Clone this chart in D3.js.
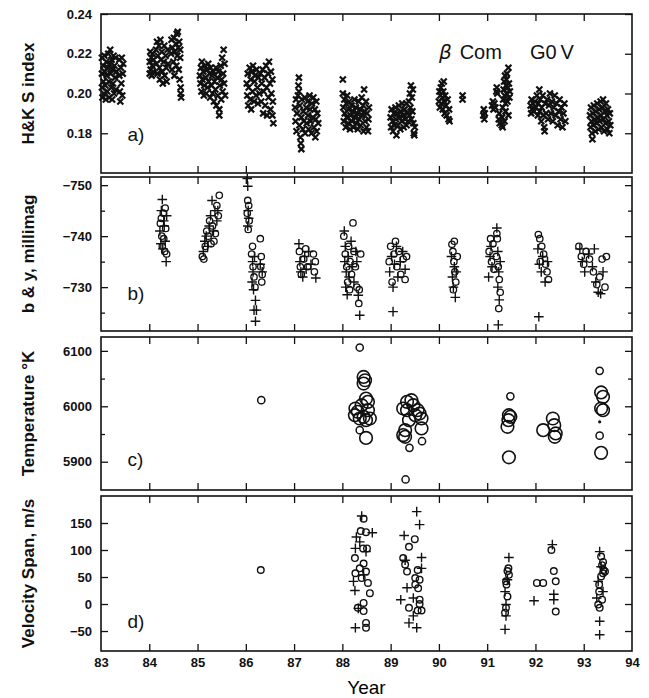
<!DOCTYPE html>
<html>
<head>
<meta charset="utf-8">
<script src="https://cdn.jsdelivr.net/npm/d3@7"></script>
<style>
  body { margin: 0; background: #fff; }
  svg { display: block; }
  .tick text { font-family: "Liberation Sans", Arial, sans-serif; font-weight: bold; font-size: 13px; fill: #111; }
  .tick line { stroke: #111; stroke-width: 1.3; }
  .title { font-family: "Liberation Sans", Arial, sans-serif; font-size: 17px; font-weight: bold; fill: #111; }
  .panelLabel { font-family: "Liberation Sans", Arial, sans-serif; font-size: 19px; fill: #111; }
</style>
</head>
<body>
<svg id="chart"></svg>
<script>

/////////////////////////////////
// DATA
//////////////////////////////////

var years = [83, 84, 85, 86, 87, 88, 89, 90, 91, 92, 93, 94];

// a) H&K S index, one [year, S] per observation
var hkIndex = [
  [83.02,.218],[83.02,.210],[83.02,.203],[83.03,.198],[83.05,.214],[83.05,.206],[83.06,.200],[83.07,.219],[83.08,.211],[83.09,.204],[83.10,.197],[83.11,.216],[83.12,.209],[83.13,.201],[83.14,.213],[83.15,.220],[83.16,.206],[83.17,.198],[83.18,.215],[83.19,.222],[83.20,.210],[83.21,.203],[83.22,.217],[83.23,.197],[83.24,.212],[83.25,.205],[83.26,.219],[83.27,.200],[83.28,.214],[83.29,.208],[83.30,.218],[83.31,.202],[83.32,.211],[83.38,.217],[83.38,.209],[83.39,.201],[83.40,.196],[83.41,.213],[83.42,.205],[83.43,.218],[83.44,.199],[83.45,.210],[83.46,.215],
  [84.01,.210],[84.01,.216],[84.02,.221],[84.03,.212],[84.04,.218],[84.05,.209],[84.06,.214],[84.07,.220],[84.08,.211],[84.09,.217],
  [84.14,.222],[84.15,.215],[84.16,.226],[84.17,.210],[84.18,.219],[84.20,.224],[84.21,.213],[84.22,.207],[84.23,.227],[84.24,.217],[84.26,.221],[84.27,.211],[84.28,.205],[84.30,.216],[84.31,.224],[84.32,.209],[84.34,.219],[84.35,.213],[84.36,.206],[84.38,.222],[84.39,.215],
  [84.45,.220],[84.46,.227],[84.47,.212],[84.48,.223],[84.50,.216],[84.51,.228],[84.52,.209],[84.53,.221],[84.55,.225],[84.56,.214],[84.57,.230],[84.58,.219],[84.59,.231],[84.60,.223],[84.61,.212],[84.62,.226],[84.63,.207],[84.64,.218],[84.65,.203],[84.65,.200],[84.66,.198],[84.64,.222],
  [85.05,.209],[85.06,.205],[85.07,.213],[85.08,.201],[85.09,.216],[85.10,.207],[85.12,.211],[85.13,.199],[85.14,.204],[85.15,.214],[85.17,.208],[85.18,.200],[85.19,.212],[85.21,.203],[85.22,.215],[85.23,.206],[85.25,.210],[85.26,.198],[85.27,.213],[85.29,.204],[85.30,.209],[85.31,.200],[85.33,.211],[85.34,.196],[85.35,.206],[85.37,.202],[85.38,.213],[85.39,.194],[85.41,.208],[85.42,.199],[85.43,.211],[85.45,.192],[85.45,.189],[85.46,.204],[85.48,.214],[85.49,.197],[85.50,.207],[85.51,.218],[85.52,.201],[85.53,.210],[85.54,.222],[85.55,.205],[85.56,.215],[85.57,.199],
  [86.02,.205],[86.03,.199],[86.04,.210],[86.05,.194],[86.06,.203],[86.08,.213],[86.09,.197],[86.10,.207],[86.11,.192],[86.13,.211],[86.14,.201],[86.15,.214],[86.17,.196],[86.18,.206],[86.19,.209],[86.21,.199],[86.22,.212],[86.24,.203],[86.25,.195],[86.26,.208],[86.28,.200],[86.30,.210],[86.32,.196],[86.33,.205],[86.35,.212],[86.36,.190],[86.37,.201],[86.39,.208],[86.40,.194],[86.42,.214],[86.43,.203],[86.44,.189],[86.46,.210],[86.47,.198],[86.48,.216],[86.50,.205],[86.51,.192],[86.52,.211],[86.53,.200],[86.55,.207],[86.55,.189],[86.56,.196],[86.57,.185],
  [87.02,.193],[87.03,.186],[87.04,.197],[87.05,.181],[87.06,.190],[87.08,.199],[87.09,.204],[87.10,.208],[87.10,.201],[87.11,.184],[87.12,.194],[87.13,.178],[87.14,.175],[87.15,.172],[87.15,.188],[87.16,.197],[87.18,.182],[87.19,.191],[87.20,.186],[87.22,.198],[87.23,.180],[87.25,.193],[87.26,.185],[87.28,.196],[87.29,.189],[87.30,.182],[87.32,.199],[87.33,.192],[87.34,.186],[87.36,.180],[87.37,.195],[87.39,.188],[87.40,.198],[87.41,.183],[87.43,.192],[87.44,.178],[87.45,.187],[87.46,.196],[87.47,.181],[87.48,.190],[87.50,.185],
  [88.01,.207],[88.01,.200],[88.02,.193],[88.03,.186],[88.04,.197],[88.05,.190],[88.07,.183],[88.08,.195],[88.09,.188],[88.10,.199],[88.12,.185],[88.13,.192],[88.14,.196],[88.16,.182],[88.17,.189],[88.19,.194],[88.20,.186],[88.22,.191],[88.23,.183],[88.25,.197],[88.26,.188],[88.28,.193],[88.29,.185],[88.31,.190],[88.32,.182],[88.34,.196],[88.35,.187],[88.37,.192],[88.38,.184],[88.40,.198],[88.41,.189],[88.43,.194],[88.44,.181],[88.45,.202],[88.46,.191],[88.47,.186],[88.49,.196],[88.50,.183],[88.51,.190],[88.53,.181],[88.54,.187],[88.55,.193],
  [89.00,.188],[89.01,.183],[89.02,.192],[89.04,.186],[89.05,.181],[89.07,.190],[89.08,.184],[89.10,.193],[89.11,.187],[89.12,.179],[89.14,.190],[89.15,.184],[89.17,.194],[89.18,.188],[89.20,.182],[89.21,.191],[89.23,.186],[89.24,.195],[89.26,.189],[89.27,.183],[89.29,.192],[89.30,.187],[89.32,.195],[89.33,.184],[89.35,.190],[89.36,.186],[89.38,.196],[89.39,.189],[89.40,.200],[89.41,.193],[89.42,.204],[89.43,.187],[89.44,.198],[89.45,.191],[89.46,.202],[89.47,.185],[89.48,.180],[89.49,.179],[89.50,.183],
  [90.00,.196],[90.01,.201],[90.02,.193],[90.03,.199],[90.04,.203],[90.05,.195],[90.06,.205],[90.07,.198],[90.08,.192],[90.09,.201],[90.10,.206],[90.11,.196],[90.12,.190],[90.13,.199],[90.15,.194],[90.16,.189],[90.18,.197],[90.20,.187],[90.21,.192],[90.22,.186],[90.49,.197],[90.49,.199],
  [90.92,.189],[90.93,.192],[90.94,.187],[90.95,.190],[91.10,.194],[91.12,.196],[91.13,.192],[91.15,.195],[91.17,.193],[91.19,.201],[91.20,.203],[91.21,.200],[91.24,.187],[91.25,.190],[91.26,.185],[91.30,.184],[91.31,.188],[91.32,.193],[91.32,.183],[91.33,.197],[91.34,.202],[91.35,.206],[91.36,.199],[91.36,.186],[91.37,.209],[91.38,.195],[91.38,.191],[91.39,.204],[91.40,.207],[91.40,.200],[91.41,.210],[91.42,.196],[91.43,.203],[91.44,.213],[91.44,.189],[91.45,.205],[91.46,.198],[91.47,.201],
  [91.90,.194],[91.91,.190],[91.92,.197],[91.93,.192],[91.95,.195],[91.97,.191],[91.99,.196],[92.01,.193],[92.03,.199],[92.05,.189],[92.06,.195],[92.08,.202],[92.09,.191],[92.10,.197],[92.12,.186],[92.13,.193],[92.15,.199],[92.16,.189],[92.18,.183],[92.19,.181],[92.20,.195],[92.22,.190],[92.24,.197],[92.26,.187],[92.28,.194],[92.30,.200],[92.32,.190],[92.34,.196],[92.36,.186],[92.38,.193],[92.40,.199],[92.42,.189],[92.44,.195],[92.46,.184],[92.48,.191],[92.50,.197],[92.52,.187],[92.54,.193],[92.56,.183],[92.58,.190],[92.60,.195],[92.62,.186],
  [93.13,.189],[93.14,.183],[93.15,.193],[93.16,.186],[93.17,.180],[93.18,.177],[93.19,.190],[93.20,.184],[93.21,.194],[93.23,.187],[93.24,.181],[93.25,.191],[93.27,.185],[93.28,.195],[93.29,.188],[93.31,.182],[93.32,.192],[93.33,.186],[93.35,.196],[93.36,.189],[93.37,.183],[93.39,.193],[93.40,.197],[93.41,.187],[93.42,.181],[93.44,.191],[93.45,.185],[93.46,.195],[93.48,.189],[93.49,.182],[93.50,.192],[93.52,.186],[93.53,.180],[93.54,.190],[93.55,.184]
];

// b) Stromgren b (circles) and y (plus), millimag
var bMag = [
  [84.23,-742.5],[84.26,-740],[84.29,-744.5],[84.32,-737],[84.34,-741.5],[84.27,-738],[84.36,-736.5],[84.30,-739.5],[84.25,-743.5],[84.33,-745.5],
  [85.10,-736],[85.13,-735.5],[85.16,-738],[85.19,-741],[85.22,-740],[85.25,-743],[85.28,-738.5],[85.31,-742],[85.34,-739],[85.37,-740.5],[85.40,-746],[85.43,-744],[85.45,-748],
  [86.04,-747],[86.06,-746],[86.03,-744.5],[86.05,-741.3],[86.07,-743],[86.12,-736.5],[86.14,-738],[86.15,-734],[86.17,-732],[86.19,-730],[86.30,-739.5],[86.32,-736],[86.34,-732.5],[86.33,-731],[86.31,-734],
  [87.11,-737],[87.13,-734],[87.15,-732.5],[87.20,-735.5],[87.24,-737.5],[87.28,-734],[87.40,-736.5],[87.44,-735],[87.42,-733],
  [88.03,-740],[88.06,-736.5],[88.09,-734],[88.11,-731],[88.13,-738],[88.16,-735],[88.19,-732.5],[88.22,-742.6],[88.24,-737],[88.27,-734],[88.30,-730],[88.34,-726.8],[88.38,-736.5],[88.35,-729.5],[88.15,-729.5],
  [88.97,-735],[89.00,-738],[89.03,-731],[89.07,-736.5],[89.10,-739],[89.13,-734],[89.17,-737],[89.21,-732.5],[89.26,-735.5],[89.30,-731.5],[89.33,-736],
  [90.27,-738.4],[90.29,-737],[90.31,-735],[90.33,-733],[90.35,-731],[90.30,-729.5],[90.38,-736],[90.32,-739],
  [91.04,-737],[91.07,-739.5],[91.09,-735],[91.12,-738.5],[91.14,-733.5],[91.19,-736],[91.21,-739.5],[91.23,-734],[91.25,-731.5],[91.27,-729],[91.24,-725.8],[91.20,-740.5],
  [92.06,-740.3],[92.09,-739.5],[92.13,-738],[92.17,-736.5],[92.21,-734.5],[92.24,-733],[92.27,-731.5],[92.10,-735],
  [92.90,-738],[92.95,-736],[93.00,-734.5],[93.05,-737],[93.12,-735.5],[93.20,-733],[93.27,-730.5],[93.33,-732],[93.38,-735.5],[93.44,-730],[93.47,-736]
];
var yMag = [
  [84.25,-745],[84.27,-747.2],[84.30,-743],[84.22,-741],[84.33,-739],[84.28,-737.5],[84.35,-735],[84.31,-742],[84.24,-738.5],[84.36,-744],
  [85.12,-737],[85.15,-739],[85.18,-740],[85.21,-738],[85.24,-742],[85.27,-744],[85.30,-747],[85.33,-741],[85.36,-745],[85.40,-743],[85.42,-745],
  [86.03,-751.3],[86.04,-749.8],[86.05,-745],[86.06,-743.5],[86.04,-742],[86.14,-735],[86.15,-733],[86.13,-731],[86.18,-736],[86.16,-729.5],[86.20,-727.4],[86.17,-725.5],[86.22,-725.5],[86.20,-723.3],[86.30,-734.5],[86.34,-733],
  [87.10,-738.5],[87.12,-735],[87.14,-733],[87.18,-732],[87.22,-736],[87.30,-737],[87.35,-734.5],[87.45,-731.8],[87.25,-733.5],
  [88.04,-741],[88.06,-738],[88.05,-735],[88.08,-733],[88.07,-730],[88.10,-728.5],[88.12,-736],[88.14,-732],[88.18,-739],[88.20,-734],[88.24,-731],[88.30,-735],[88.33,-728.4],[88.36,-724.5],[88.28,-737],
  [88.98,-733],[89.02,-736],[89.05,-730],[89.08,-734.5],[89.12,-738],[89.05,-725.2],[89.15,-732],[89.20,-735],[89.25,-737],[89.30,-733.5],
  [90.26,-736],[90.28,-732],[90.30,-730],[90.32,-734],[90.34,-728],[90.36,-733],
  [91.03,-732],[91.06,-736],[91.08,-738],[91.10,-734],[91.20,-741.6],[91.22,-737],[91.24,-733],[91.22,-730],[91.25,-727.5],[91.23,-722.6],[91.27,-735],
  [92.05,-737.5],[92.08,-734.5],[92.12,-733],[92.07,-724.2],[92.15,-736],[92.20,-731],[92.25,-735],
  [92.92,-737.5],[92.97,-735],[93.02,-733],[93.10,-736.5],[93.18,-734],[93.25,-731],[93.30,-729],[93.35,-728.7],[93.22,-737.5],[93.40,-733]
];

// c) Temperature, K : large and small circles
var tempLarge = [
  [88.44,6053],[88.47,6047],[88.44,6041],[88.49,6014],[88.53,6008],[88.40,6002],[88.27,5996],[88.53,5993],[88.32,5990],[88.26,5984],[88.44,5981],[88.36,5978],[88.57,5978],[88.49,5975],[88.49,5943],
  [89.26,5996],[89.34,6008],[89.43,6011],[89.47,6002],[89.56,5993],[89.60,5987],[89.64,5978],[89.51,5984],[89.38,5975],[89.30,5957],[89.26,5948],[89.30,5945],[89.64,5960],[89.34,5993],
  [91.45,5984],[91.44,5975],[91.42,5963],[91.48,5981],[91.45,5908],
  [92.16,5957],[92.36,5978],[92.39,5966],[92.42,5951],[92.40,5945],
  [93.36,6025],[93.40,6017],[93.36,5996],[93.40,5993],[93.36,5916]
];
var tempSmall = [
  [86.32,6011],[88.36,6106],[88.36,5957],[89.39,5925],[89.65,5937],[89.31,5868],[91.48,6018],[93.33,6064],[93.33,5947]
];
var tempDot = [[93.33,5972]];

// d) Velocity span, m/s : plus and circles
var spanPlus = [
  [88.40,163],[88.29,124],[88.62,132],[88.27,103],[88.23,42],[88.26,25],[88.44,54],[88.27,-44],[88.33,-8],[88.49,97],[88.36,115],
  [89.54,171],[89.60,147],[89.28,127],[89.64,86],[89.64,66],[89.34,30],[89.21,8],[89.47,11],[89.47,-22],[89.38,-35],[89.54,-44],[89.30,81],
  [91.45,86],[91.37,23],[91.39,-1],[91.39,-22],[91.37,-47],[91.42,45],
  [92.35,110],[92.38,18],[91.97,6],[92.38,8],
  [93.33,97],[93.30,42],[93.27,11],[93.33,-32],[93.33,-57],[93.36,69],[93.40,23]
];
var spanCircle = [
  [86.31,63],
  [88.44,158],[88.38,135],[88.49,133],[88.43,103],[88.51,103],[88.26,85],[88.44,75],[88.27,57],[88.53,39],[88.57,20],[88.44,2],[88.44,-13],[88.49,-35],[88.49,-44],[88.32,-7],[88.36,66],[88.40,48],[88.49,60],
  [89.50,120],[89.38,106],[89.26,85],[89.30,73],[89.34,60],[89.51,48],[89.60,45],[89.57,29],[89.60,8],[89.38,-7],[89.56,-12],[89.60,0],[89.64,-12],[89.51,36],[89.56,63],
  [91.42,61],[91.45,54],[91.39,42],[91.42,14],[91.39,-7],[91.37,-16],[91.44,66],[91.40,36],
  [92.33,100],[92.03,39],[92.38,61],[92.42,42],[92.42,-14],[92.16,39],
  [93.36,88],[93.38,72],[93.41,63],[93.40,57],[93.36,51],[93.32,23],[93.30,-1],[93.33,-7],[93.40,78],[93.44,60],[93.32,36],[93.38,8]
];

/////////////////////////////////
// SETUP
//////////////////////////////////

var width = 649;
var height = 698;
var left = 101, right = 632;

var svg = d3.select("#chart")
  .attr("width", width)
  .attr("height", height);

var x = d3.scaleLinear().domain([83, 94]).range([left, right]);

// each panel: its own y scale, ticks and title
var panels = [
  { top: 14, bottom: 173, domain: [0.16, 0.24], major: [0.18, 0.20, 0.22, 0.24], minor: [],
    fmt: d3.format(".2f"), title: "H&K S index", label: "a)", labelAt: [83.55, 0.176] },
  { top: 177, bottom: 331, domain: [-721.4, -751.6], major: [-750, -740, -730], minor: [-745, -735, -725],
    fmt: function(d) { return "\u2212" + Math.abs(d); }, title: "b & y,  millimag", label: "b)", labelAt: [83.55, -727.5] },
  { top: 337, bottom: 490, domain: [5849, 6125], major: [5900, 6000, 6100], minor: [5950, 6050],
    fmt: d3.format("d"), title: "Temperature \u00B0K", label: "c)", labelAt: [83.55, 5893] },
  { top: 496, bottom: 651, domain: [-87, 200], major: [-50, 0, 50, 100, 150], minor: [],
    fmt: function(d) { return d < 0 ? "\u2212" + Math.abs(d) : d; }, title: "Velocity  Span,  m/s", label: "d)", labelAt: [83.55, -45] }
];

panels.forEach(function(p) {
  p.y = d3.scaleLinear().domain(p.domain).range([p.bottom, p.top]);
});

/////////////////////////////////
// MARKER HELPERS
//////////////////////////////////

function crossX(s) {
  return function(d) {
    return "M" + (-s) + "," + (-s) + "L" + s + "," + s + "M" + (-s) + "," + s + "L" + s + "," + (-s);
  };
}
function crossPlus(s) {
  return function(d) {
    return "M" + (-s) + ",0L" + s + ",0M0," + (-s) + "L0," + s;
  };
}

/////////////////////////////////
// DRAW AXES AND FRAMES
//////////////////////////////////

panels.forEach(function(p, i) {
  var g = svg.append("g").attr("class", "panel");
  var h = p.bottom - p.top;

  // x ticks, top and bottom, pointing in
  g.append("g")
    .attr("transform", "translate(0," + p.bottom + ")")
    .call(d3.axisBottom(x).tickValues(years.slice(1, -1)).tickSize(-7).tickFormat(""));
  g.append("g")
    .attr("transform", "translate(0," + p.top + ")")
    .call(d3.axisTop(x).tickValues(years.slice(1, -1)).tickSize(-7).tickFormat(""));

  // y ticks left (labelled) and right
  g.append("g")
    .attr("transform", "translate(" + left + ",0)")
    .call(d3.axisLeft(p.y).tickValues(p.major).tickSize(-7).tickPadding(9).tickFormat(p.fmt));
  g.append("g")
    .attr("transform", "translate(" + right + ",0)")
    .call(d3.axisRight(p.y).tickValues(p.major).tickSize(-7).tickFormat(""));
  g.append("g")
    .attr("transform", "translate(" + left + ",0)")
    .call(d3.axisLeft(p.y).tickValues(p.minor).tickSize(-4).tickFormat(""));
  g.append("g")
    .attr("transform", "translate(" + right + ",0)")
    .call(d3.axisRight(p.y).tickValues(p.minor).tickSize(-4).tickFormat(""));

  g.selectAll(".domain").remove();

  g.append("rect")
    .attr("x", left).attr("y", p.top)
    .attr("width", right - left).attr("height", h)
    .attr("fill", "none").attr("stroke", "#111").attr("stroke-width", 1.6);

  // rotated axis title
  g.append("text")
    .attr("class", "title")
    .attr("text-anchor", "middle")
    .attr("transform", "translate(34," + (p.top + h / 2) + ") rotate(-90)")
    .text(p.title);

  g.append("text")
    .attr("class", "panelLabel")
    .attr("x", x(p.labelAt[0]))
    .attr("y", p.y(p.labelAt[1]))
    .text(p.label);
});

// year labels under the last panel
svg.append("g")
  .attr("transform", "translate(0," + panels[3].bottom + ")")
  .call(d3.axisBottom(x).tickValues(years).tickSize(0).tickPadding(7).tickFormat(d3.format("d")))
  .select(".domain").remove();

svg.append("text")
  .attr("x", x(88.5))
  .attr("y", 694)
  .attr("text-anchor", "middle")
  .style("font-family", "'Liberation Sans', Arial, sans-serif")
  .style("font-size", "19px")
  .text("Year");

// star name
var star = svg.append("text")
  .attr("x", x(90.0))
  .attr("y", panels[0].y(0.2172))
  .style("font-family", "'Liberation Sans', Arial, sans-serif")
  .style("font-size", "20px")
  .attr("fill", "#111");
star.append("tspan").style("font-style", "oblique").style("font-family", "'DejaVu Sans', sans-serif").text("\u03B2");
star.append("tspan").attr("dx", 8).text("Com");
star.append("tspan").attr("dx", 28).text("G0");
star.append("tspan").attr("dx", 4).text("V");

/////////////////////////////////
// DRAW THE POINTS
//////////////////////////////////

var pa = panels[0], pb = panels[1], pc = panels[2], pd = panels[3];

svg.append("g").selectAll("path")
  .data(hkIndex).enter().append("path")
  .attr("transform", function(d) { return "translate(" + x(d[0]) + "," + pa.y(d[1]) + ")"; })
  .attr("d", crossX(3))
  .attr("stroke", "#111").attr("stroke-width", 2.2).attr("fill", "none");

svg.append("g").selectAll("circle")
  .data(bMag).enter().append("circle")
  .attr("cx", function(d) { return x(d[0]); })
  .attr("cy", function(d) { return pb.y(d[1]); })
  .attr("r", 3.2)
  .attr("fill", "none").attr("stroke", "#111").attr("stroke-width", 1.3);

svg.append("g").selectAll("path")
  .data(yMag).enter().append("path")
  .attr("transform", function(d) { return "translate(" + x(d[0]) + "," + pb.y(d[1]) + ")"; })
  .attr("d", crossPlus(4.8))
  .attr("stroke", "#111").attr("stroke-width", 1.4).attr("fill", "none");

svg.append("g").selectAll("circle")
  .data(tempLarge).enter().append("circle")
  .attr("cx", function(d) { return x(d[0]); })
  .attr("cy", function(d) { return pc.y(d[1]); })
  .attr("r", 6.3)
  .attr("fill", "none").attr("stroke", "#111").attr("stroke-width", 1.6);

svg.append("g").selectAll("circle")
  .data(tempSmall).enter().append("circle")
  .attr("cx", function(d) { return x(d[0]); })
  .attr("cy", function(d) { return pc.y(d[1]); })
  .attr("r", 3.6)
  .attr("fill", "none").attr("stroke", "#111").attr("stroke-width", 1.5);

svg.append("g").selectAll("circle")
  .data(tempDot).enter().append("circle")
  .attr("cx", function(d) { return x(d[0]); })
  .attr("cy", function(d) { return pc.y(d[1]); })
  .attr("r", 1.6)
  .attr("fill", "#111");

svg.append("g").selectAll("path")
  .data(spanPlus).enter().append("path")
  .attr("transform", function(d) { return "translate(" + x(d[0]) + "," + pd.y(d[1]) + ")"; })
  .attr("d", crossPlus(4.8))
  .attr("stroke", "#111").attr("stroke-width", 1.4).attr("fill", "none");

svg.append("g").selectAll("circle")
  .data(spanCircle).enter().append("circle")
  .attr("cx", function(d) { return x(d[0]); })
  .attr("cy", function(d) { return pd.y(d[1]); })
  .attr("r", 3.3)
  .attr("fill", "none").attr("stroke", "#111").attr("stroke-width", 1.4);

</script>
</body>
</html>
